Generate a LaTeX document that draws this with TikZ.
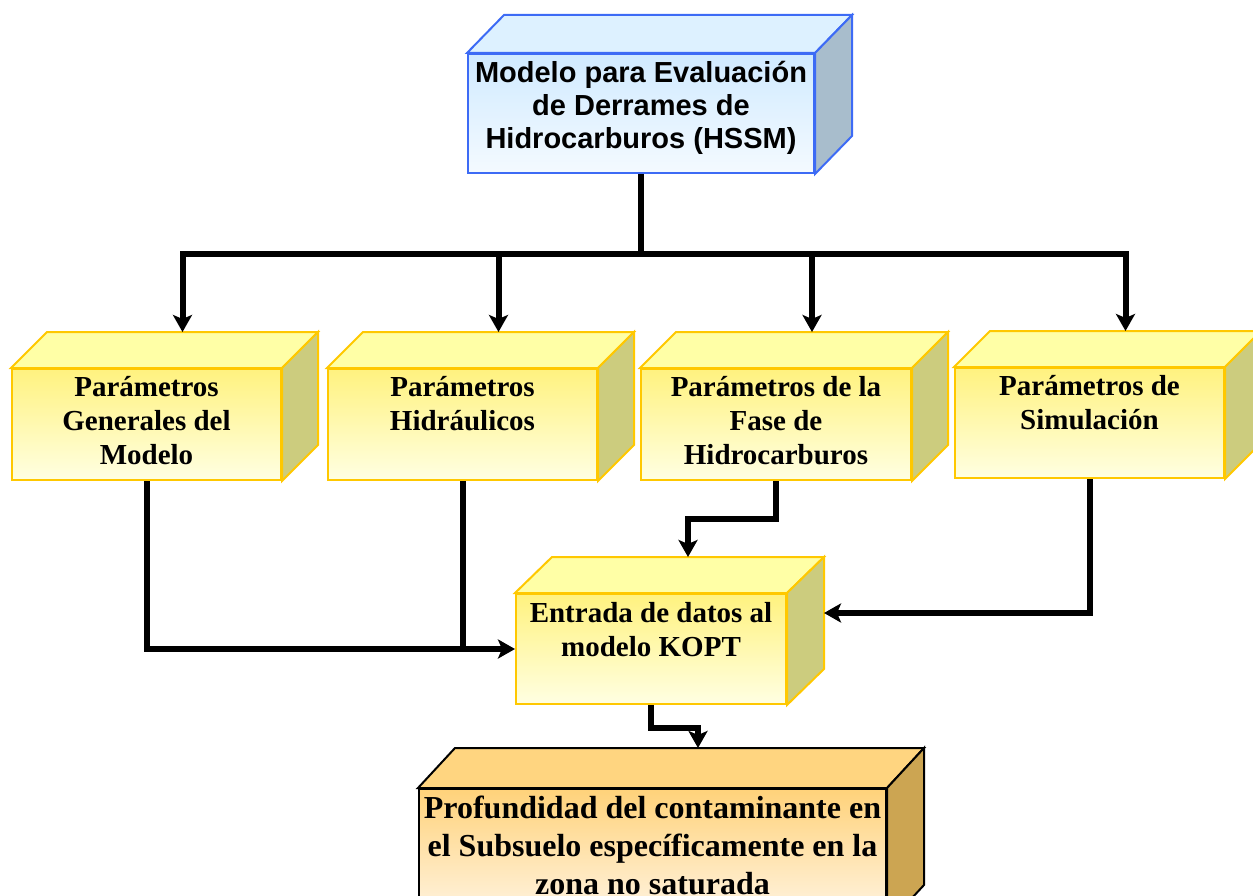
\documentclass[tikz,border=0pt]{standalone}
\usepackage{fontspec}
\setmainfont{Liberation Serif}
\newfontfamily\arialfont{Liberation Sans}
\usetikzlibrary{arrows.meta,calc}

\definecolor{blueA}{HTML}{D0EAFF}
\definecolor{blueB}{HTML}{F4FAFF}
\definecolor{blueTop}{HTML}{DDF1FF}
\definecolor{blueSide}{HTML}{A8BDCC}
\definecolor{blueLine}{HTML}{3D6BF5}
\definecolor{yelA}{HTML}{FFF27F}
\definecolor{yelB}{HTML}{FFFFE2}
\definecolor{yelTop}{HTML}{FFFFA6}
\definecolor{yelSide}{HTML}{CCCC7E}
\definecolor{yelLine}{HTML}{FFC800}
\definecolor{orA}{HTML}{FFD27A}
\definecolor{orB}{HTML}{FFF6E8}
\definecolor{orTop}{HTML}{FFD580}
\definecolor{orSide}{HTML}{CCA552}

\tikzset{
  bluefront/.style={shade, top color=blueA, bottom color=blueB, draw=blueLine, line width=2pt, inner sep=0pt},
  blueface/.style={draw=blueLine, line width=2pt, line join=miter},
  bluetopc/.style={fill=blueTop}, bluesidec/.style={fill=blueSide},
  yelfront/.style={shade, top color=yelA, bottom color=yelB, draw=yelLine, line width=2pt, inner sep=0pt},
  yelface/.style={draw=yelLine, line width=2pt, line join=miter},
  yeltopc/.style={fill=yelTop}, yelsidec/.style={fill=yelSide},
  orfront/.style={shade, top color=orA, bottom color=orB, draw=black, line width=2pt, inner sep=0pt},
  orface/.style={draw=black, line width=2pt, line join=miter},
  ortopc/.style={fill=orTop}, orsidec/.style={fill=orSide},
  txtbase/.style={anchor=north, inner sep=0pt, align=center, text=black},
  bluetxt/.style={txtbase, font=\arialfont\bfseries\fontsize{29}{33}\selectfont},
  yeltxt/.style={txtbase, font=\bfseries\fontsize{29}{34}\selectfont},
  ortxt/.style={txtbase, font=\bfseries\fontsize{32}{38}\selectfont},
  conn/.style={line width=6pt, line join=miter, draw=black},
  arr/.style={conn, -{Stealth[length=17pt, width=19pt, inset=4pt]}},
}

\newcommand\mkcube[8]{%
  \node[#6front, minimum width=#4pt, minimum height=#5pt, anchor=north west] (#1) at (#2,#3) {};
  \path[#6face, #6topc] (#1.north west) -- ++(#7,-#8) -- ($(#1.north east)+(#7,-#8)$) -- (#1.north east) -- cycle;
  \path[#6face, #6sidec] (#1.north east) -- ++(#7,-#8) -- ($(#1.south east)+(#7,-#8)$) -- (#1.south east) -- cycle;
  \coordinate (#1-back) at ($(#1.north)+(#7,-#8)$);
  \coordinate (#1-side) at ($(#1.east)+(#7,-#8)$);
}

\begin{document}
\begin{tikzpicture}[x=1pt, y=-1pt]
\useasboundingbox (0,0) rectangle (1253,896);
\clip (0,0) rectangle (1253,896);

% boxes
\mkcube{top}{467}{53}{346}{119}{blue}{37}{38}
\node[bluetxt] (toptxt) at ($(top.north)+(0,5)$) {\rule{0pt}{24pt}Modelo para Evaluación\\de Derrames de\\Hidrocarburos (HSSM)};

\mkcube{b1}{11}{368}{269}{111}{yel}{36}{36}
\node[yeltxt] (t1) at ($(b1.north)+(0,4)$) {\rule{0pt}{24pt}Parámetros\\Generales del\\Modelo};

\mkcube{b2}{327}{368}{269}{111}{yel}{36}{36}
\node[yeltxt] (t2) at ($(b2.north)+(0,4)$) {\rule{0pt}{24pt}Parámetros\\Hidráulicos};

\mkcube{b3}{640}{368}{270}{111}{yel}{36}{36}
\node[yeltxt] (t3) at ($(b3.north)+(0,4)$) {\rule{0pt}{24pt}Parámetros de la\\Fase de\\Hidrocarburos};

\mkcube{b4}{954}{367}{269}{110}{yel}{36}{36}
\node[yeltxt] (t4) at ($(b4.north)+(0,4)$) {\rule{0pt}{24pt}Parámetros de\\Simulación};

\mkcube{kopt}{515}{593}{270}{110}{yel}{37}{36}
\node[yeltxt] (tk) at ($(kopt.north)+(0,5)$) {\rule{0pt}{24pt}Entrada de datos al\\modelo KOPT};

\mkcube{bot}{418}{788}{467}{135}{or}{37}{40}
\node[ortxt] (tb) at ($(bot.north)+(0,6)$) {\rule{0pt}{24pt}Profundidad del contaminante en\\el Subsuelo específicamente en la\\zona no saturada};

% connectors
\coordinate (bus) at ($(top.south)+(0,80)$);
\coordinate (botin) at (698,748);
\draw[conn] (top.south) -- ([yshift=-3pt]bus);
\draw[arr] (bus) -| (b1-back);
\draw[arr] (bus) -| (b2-back);
\draw[arr] (bus) -| (b3-back);
\draw[arr] (bus) -| (b4-back);

\draw[arr] (b1.south) |- (kopt.west);
\draw[conn] (b2.south) -- (b2.south |- kopt.west);
\draw[arr] (b3.south) -- ++(0,38) -| (kopt-back);
\draw[arr] (b4.south) |- (kopt-side);
\draw[arr] (kopt.south) -- ++(0,23) -| (botin);
\end{tikzpicture}
\end{document}
